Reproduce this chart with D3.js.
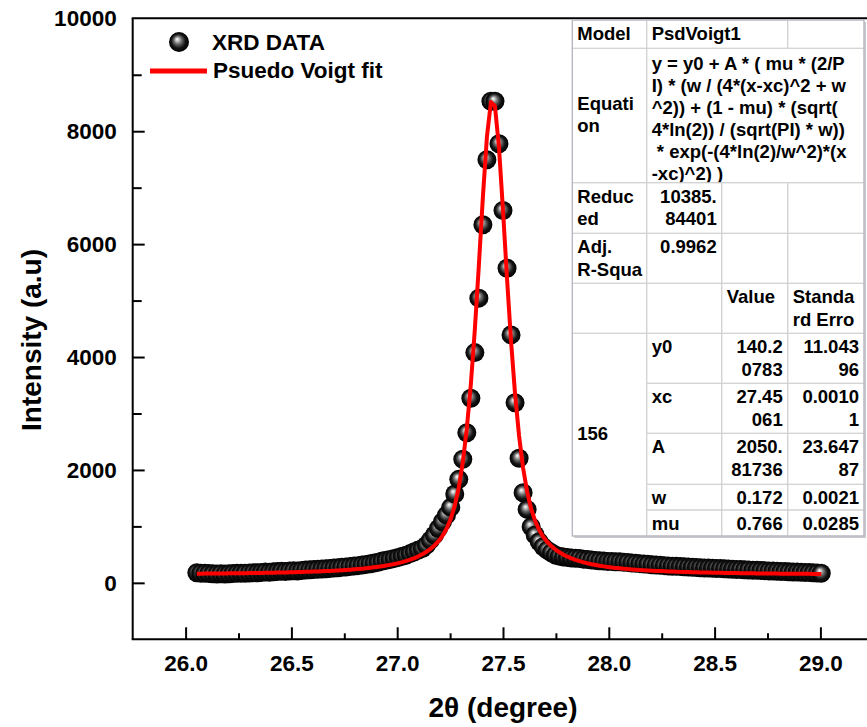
<!DOCTYPE html>
<html>
<head>
<meta charset="utf-8">
<script src="https://cdn.jsdelivr.net/npm/d3@7"></script>
<style>
  body { margin: 0; background: #fff; }
  svg text { font-family: "Liberation Sans", Arial, Helvetica, sans-serif; font-weight: bold; fill: #000; }
</style>
</head>
<body>
<svg id="chart" width="867" height="727"></svg>
<script>
// 2-theta positions of the measured points (degrees)
const twoTheta = [
  26.053, 26.072, 26.091, 26.110, 26.129, 26.148, 26.167, 26.186, 26.205, 26.224,
  26.243, 26.262, 26.281, 26.301, 26.320, 26.339, 26.358, 26.377, 26.396, 26.415,
  26.434, 26.453, 26.472, 26.491, 26.510, 26.529, 26.548, 26.567, 26.586, 26.605,
  26.624, 26.643, 26.662, 26.681, 26.700, 26.719, 26.738, 26.757, 26.777, 26.796,
  26.815, 26.834, 26.853, 26.872, 26.891, 26.910, 26.929, 26.948, 26.967, 26.986,
  27.005, 27.024, 27.043, 27.062, 27.081, 27.100, 27.119, 27.138, 27.157, 27.176,
  27.195, 27.214, 27.233, 27.253, 27.272, 27.291, 27.310, 27.329, 27.348, 27.367,
  27.386, 27.405, 27.424, 27.443, 27.462, 27.481, 27.500, 27.519, 27.538, 27.557,
  27.576, 27.595, 27.614, 27.633, 27.652, 27.671, 27.690, 27.709, 27.729, 27.748,
  27.767, 27.786, 27.805, 27.824, 27.843, 27.862, 27.881, 27.900, 27.919, 27.938,
  27.957, 27.976, 27.995, 28.014, 28.033, 28.052, 28.071, 28.090, 28.109, 28.128,
  28.147, 28.166, 28.185, 28.205, 28.224, 28.243, 28.262, 28.281, 28.300, 28.319,
  28.338, 28.357, 28.376, 28.395, 28.414, 28.433, 28.452, 28.471, 28.490, 28.509,
  28.528, 28.547, 28.566, 28.585, 28.604, 28.623, 28.642, 28.661, 28.681, 28.700,
  28.719, 28.738, 28.757, 28.776, 28.795, 28.814, 28.833, 28.852, 28.871, 28.890,
  28.909, 28.928, 28.947, 28.966, 28.985, 29.004
];

// Measured intensity (a.u.) at each position
const intensity = [
  178, 172, 168, 165, 160, 158, 162, 155, 160, 165,
  168, 172, 170, 176, 180, 178, 185, 190, 188, 195,
  200, 205, 203, 210, 215, 212, 220, 226, 230, 235,
  240, 244, 250, 255, 262, 268, 275, 282, 290, 298,
  305, 315, 325, 338, 350, 365, 385, 400, 415, 432,
  450, 470, 491, 520, 550, 580, 610, 668, 757, 846,
  964, 1082, 1200, 1337, 1573, 1833, 2188, 2660, 3270, 4078,
  5043, 6342, 7495, 8530, 8530, 7778, 6596, 5574, 4392, 3191,
  2206, 1596, 1301, 993, 846, 727, 638, 580, 532, 491,
  473, 460, 448, 440, 436, 432, 420, 412, 405, 398,
  390, 385, 380, 378, 375, 372, 365, 360, 352, 345,
  340, 332, 328, 320, 315, 310, 305, 300, 295, 292,
  288, 285, 280, 276, 272, 268, 265, 262, 258, 255,
  252, 248, 245, 240, 238, 235, 230, 228, 225, 222,
  220, 216, 212, 210, 206, 202, 200, 196, 192, 190,
  188, 185, 182, 178, 175, 170
];

// Fitted PsdVoigt1 parameters: y0, xc, A, w, mu
const paramNames  = ["y0", "xc", "A", "w", "mu"];
const paramValues = [140.20783, 27.45061, 2050.81736, 0.172, 0.766];
const valueText   = [["140.2", "0783"], ["27.45", "061"], ["2050.", "81736"], ["0.172"], ["0.766"]];
const errorText   = [["11.043", "96"], ["0.0010", "1"], ["23.647", "87"], ["0.0021"], ["0.0285"]];

const equationLines = [
  "y = y0 + A * ( mu * (2/P",
  "I) * (w / (4*(x-xc)^2 + w",
  "^2)) + (1 - mu) * (sqrt(",
  "4*ln(2)) / (sqrt(PI) * w))",
  " * exp(-(4*ln(2)/w^2)*(x",
  "-xc)^2) )"
];

const xTicks = [26.0, 26.5, 27.0, 27.5, 28.0, 28.5, 29.0];
const xMinorTicks = [26.25, 26.75, 27.25, 27.75, 28.25, 28.75];
const yTicks = [0, 2000, 4000, 6000, 8000, 10000];
const yMinorTicks = [1000, 3000, 5000, 7000, 9000];

const legendLabels = ["XRD DATA", "Psuedo Voigt fit"];

// ---------------------------------------------------------------
const svg = d3.select("#chart");

const x = d3.scaleLinear().domain([25.75, 29.25]).range([132.7, 873.3]);
const y = d3.scaleLinear().domain([-1000, 10000]).range([639.3, 18.3]);

// Sphere marker gradient
const defs = svg.append("defs");
const grad = defs.append("radialGradient")
  .attr("id", "ball").attr("cx", "0.5").attr("cy", "0.5").attr("r", "0.5")
  .attr("fx", "0.4").attr("fy", "0.35");
grad.append("stop").attr("offset", "0").attr("stop-color", "#ffffff");
grad.append("stop").attr("offset", "0.12").attr("stop-color", "#d8d8d8");
grad.append("stop").attr("offset", "0.4").attr("stop-color", "#6a6a6a");
grad.append("stop").attr("offset", "0.7").attr("stop-color", "#151515");
grad.append("stop").attr("offset", "1").attr("stop-color", "#000000");

// Axes (ticks point into the plot)
svg.append("g").attr("transform", `translate(0,${y(-1000)})`)
  .call(d3.axisBottom(x).tickValues(xTicks).tickSize(-12).tickPadding(16)
        .tickFormat(d3.format(".1f")));
svg.append("g").attr("transform", `translate(0,${y(-1000)})`)
  .call(d3.axisBottom(x).tickValues(xMinorTicks).tickSize(-6).tickFormat(""));
const yAxis = svg.append("g").attr("transform", `translate(${x(25.75)},0)`)
  .call(d3.axisLeft(y).tickValues(yTicks).tickSize(-12).tickPadding(16)
        .tickFormat(d3.format("d")));
svg.append("g").attr("transform", `translate(${x(25.75)},0)`)
  .call(d3.axisLeft(y).tickValues(yMinorTicks).tickSize(-9).tickFormat(""));

svg.selectAll(".domain").remove();
svg.selectAll(".tick line").attr("stroke", "#000").attr("stroke-width", 2);
svg.selectAll(".tick text").attr("font-size", 22.5).style("font-family", null);
yAxis.selectAll(".tick")
  .filter(d => d === 10000).select("line").remove();

// Frame: left, bottom and top edges
const frame = svg.append("g").attr("stroke", "#000").attr("stroke-width", 2);
frame.append("line").attr("x1", x(25.75)).attr("x2", x(25.75)).attr("y1", y(10000)).attr("y2", y(-1000));
frame.append("line").attr("x1", x(25.75) - 1).attr("x2", x(29.25)).attr("y1", y(-1000)).attr("y2", y(-1000));
frame.append("line").attr("x1", x(25.75) - 1).attr("x2", x(29.25)).attr("y1", y(10000)).attr("y2", y(10000));

// Axis titles
svg.append("text")
  .attr("transform", `translate(31,340) rotate(-90)`)
  .attr("text-anchor", "middle").attr("dy", "0.35em").attr("font-size", 28)
  .text("Intensity (a.u)");
svg.append("text")
  .attr("x", 503).attr("y", 717).attr("text-anchor", "middle").attr("font-size", 28)
  .text("2θ (degree)");

// Data points
const pts = twoTheta.map((t, i) => ({ t, v: intensity[i] }));
svg.append("g").selectAll("circle").data(pts).join("circle")
  .attr("cx", d => x(d.t)).attr("cy", d => y(d.v)).attr("r", 9.5)
  .attr("fill", "url(#ball)");

// PsdVoigt1 fit curve evaluated at the measured positions
function psdVoigt(t) {
  const [y0, xc, A, w, mu] = paramValues;
  const d2 = (t - xc) * (t - xc);
  const lor = (2 / Math.PI) * (w / (4 * d2 + w * w));
  const gau = (Math.sqrt(4 * Math.LN2) / (Math.sqrt(Math.PI) * w)) *
              Math.exp(-(4 * Math.LN2 / (w * w)) * d2);
  return y0 + A * (mu * lor + (1 - mu) * gau);
}
svg.append("path")
  .datum(twoTheta)
  .attr("fill", "none").attr("stroke", "#ff0000").attr("stroke-width", 4)
  .attr("stroke-linejoin", "round")
  .attr("d", d3.line().x(t => x(t)).y(t => y(psdVoigt(t))));

// Legend
const legend = svg.append("g");
legend.append("circle").attr("cx", 179).attr("cy", 42).attr("r", 10).attr("fill", "url(#ball)");
legend.append("text").attr("x", 212).attr("y", 50).attr("font-size", 22.5).text(legendLabels[0]);
legend.append("line").attr("x1", 150).attr("x2", 207).attr("y1", 71).attr("y2", 71)
  .attr("stroke", "#ff0000").attr("stroke-width", 5);
legend.append("text").attr("x", 213).attr("y", 78).attr("font-size", 22.5).text(legendLabels[1]);

// Fit report table
const colX = [572.3, 646.7, 721.7, 787.7, 864];
const rowY = [20, 48.3, 182.7, 233.3, 283.3, 333.3, 383.3, 433.3, 484.3, 510, 536];

const cells = [
  { r: 0, c: 0, lines: ["Model"] },
  { r: 0, c: 1, cs: 2, lines: ["PsdVoigt1"] },
  { r: 0, c: 3, lines: [] },
  { r: 1, c: 0, lines: ["Equati", "on"], mid: true },
  { r: 1, c: 1, cs: 3, lines: equationLines, top: 22, lh: 22 },
  { r: 2, c: 0, lines: ["Reduc", "ed"] },
  { r: 2, c: 1, lines: ["10385.", "84401"], right: true },
  { r: 2, c: 2, lines: [] }, { r: 2, c: 3, lines: [] },
  { r: 3, c: 0, lines: ["Adj.", "R-Squa"] },
  { r: 3, c: 1, lines: ["0.9962"], right: true },
  { r: 3, c: 2, lines: [] }, { r: 3, c: 3, lines: [] },
  { r: 4, c: 0, lines: [] }, { r: 4, c: 1, lines: [] },
  { r: 4, c: 2, lines: ["Value"] },
  { r: 4, c: 3, lines: ["Standa", "rd Erro"] },
  { r: 5, c: 0, rs: 5, lines: ["156"], mid: true }
];
paramNames.forEach((p, i) => {
  cells.push({ r: 5 + i, c: 1, lines: [p] });
  cells.push({ r: 5 + i, c: 2, lines: valueText[i], right: true });
  cells.push({ r: 5 + i, c: 3, lines: errorText[i], right: true });
});

const table = svg.append("g");
table.append("rect")
  .attr("x", colX[0] + 2).attr("y", rowY[0] + 2)
  .attr("width", colX[4] - colX[0]).attr("height", rowY[10] - rowY[0])
  .attr("fill", "#c9c9d2");
table.append("rect")
  .attr("x", colX[0]).attr("y", rowY[0])
  .attr("width", colX[4] - colX[0]).attr("height", rowY[10] - rowY[0])
  .attr("fill", "#fff");

const lineH = 22.5;
cells.forEach((cell, k) => {
  const x0 = colX[cell.c], x1 = colX[cell.c + (cell.cs || 1)];
  const y0 = rowY[cell.r], y1 = rowY[cell.r + (cell.rs || 1)];
  const lh = cell.lh || lineH;
  const g = table.append("g");
  g.append("rect").attr("x", x0).attr("y", y0).attr("width", x1 - x0).attr("height", y1 - y0)
    .attr("fill", "none").attr("stroke", "#d2d2d2").attr("stroke-width", 1);
  const clipId = "cell" + k;
  defs.append("clipPath").attr("id", clipId).append("rect")
    .attr("x", x0).attr("y", y0).attr("width", x1 - x0).attr("height", y1 - y0);
  let base = y0 + (cell.top || 20);
  if (cell.mid) base = y0 + (y1 - y0 - cell.lines.length * lh) / 2 + 16.5;
  g.append("g").attr("clip-path", `url(#${clipId})`)
    .selectAll("text").data(cell.lines).join("text")
    .attr("x", cell.right ? x1 - 5 : x0 + 5)
    .attr("y", (d, i) => base + i * lh)
    .attr("text-anchor", cell.right ? "end" : "start")
    .attr("font-size", 18.5)
    .style("white-space", "pre")
    .text(d => d);
});
table.append("rect")
  .attr("x", colX[0]).attr("y", rowY[0])
  .attr("width", colX[4] - colX[0]).attr("height", rowY[10] - rowY[0])
  .attr("fill", "none").attr("stroke", "#b4b4be").attr("stroke-width", 1.2);
</script>
</body>
</html>
